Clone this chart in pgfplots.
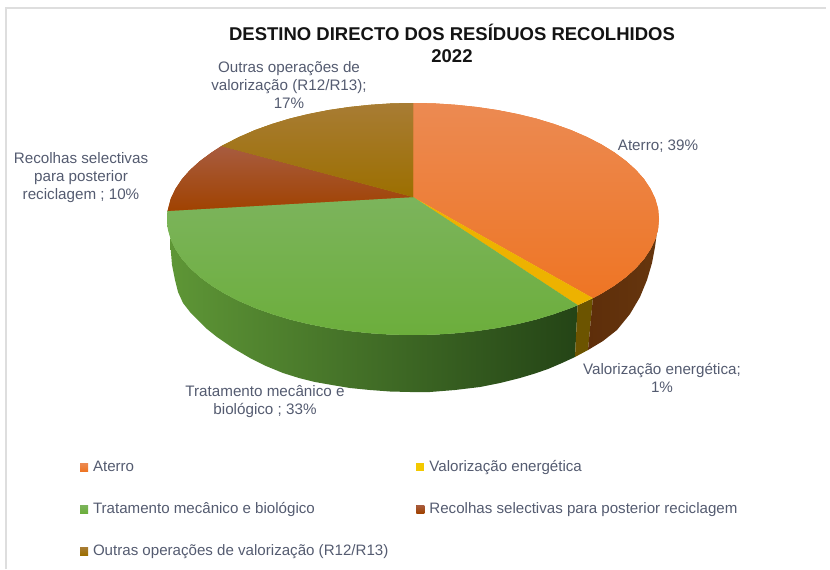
\documentclass[border=0pt]{standalone}
\usepackage{pgfplots}
\pgfplotsset{compat=1.18}
\usepackage{fontspec}
\setmainfont{Liberation Sans}
\definecolor{lab}{HTML}{545B70}
\definecolor{cOr}{HTML}{EE7524}
\definecolor{cOrT}{HTML}{EC8A52}
\definecolor{cYe}{HTML}{EDB200}
\definecolor{cGr}{HTML}{6CAE3C}
\definecolor{cGrT}{HTML}{7CB45C}
\definecolor{cRe}{HTML}{A04200}
\definecolor{cReT}{HTML}{A85C40}
\definecolor{cOl}{HTML}{9C6F00}
\definecolor{cOlT}{HTML}{A87C34}
\begin{document}
\begin{tikzpicture}
\begin{axis}[
  width=830pt, height=569pt, scale only axis,
  xmin=0, xmax=830, ymin=0, ymax=569, y dir=reverse,
  hide axis, clip=false,
  legend columns=2,
  legend cell align=left,
  legend style={draw=none, fill=none, at={(axis cs:80,460)}, anchor=north west,
    font=\fontsize{15.1}{18}\selectfont, text=lab,
    /tikz/every even column/.append style={column sep=28pt},
    /tikz/every odd column/.append style={column sep=5pt},
    row sep=28pt, inner sep=0pt, outer sep=0pt,
    nodes={inner sep=0pt, anchor=base west, text height=11pt, text depth=3pt}},
]
% frame of the picture
\addplot[forget plot, draw=none] coordinates {(0,0) (830,569)};
\addplot[forget plot, color=black!13, line width=1.5pt] coordinates {(6,569) (6,8) (826,8)};
% side walls
\addplot[forget plot, draw=none, left color={rgb,255:red,94;green,150;blue,54}, middle color={rgb,255:red,70;green,112;blue,38}, right color={rgb,255:red,36;green,68;blue,22}]
 coordinates {(577.6,305.2)(571.1,307.9)(554.1,314)(536,319.5)(517,324.1)(497.1,328)(476.7,331)(455.7,333.2)(434.4,334.6)(413,335)(391.6,334.6)(370.3,333.2)(349.3,331)(328.9,328)(309,324.1)(290,319.5)(271.9,314)(254.9,307.9)(239.1,301)(224.6,293.6)(211.5,285.5)(200,277)(190,268)(181.8,258.7)(175.4,249)(170.7,239.1)
 (170.5,247)(172,265)(175,280)(178,292)(183,303)(190,312)(198,320)(207,329)(217,337)(233,348)(250,358)(266,366)(283,373)(299,378)(315,382)(332,385)(350,388)(370,390)(390,391.5)(410,392)(430,392)(455,390)(480,387)(500,383)(520,378)(535,373.5)(548,369)(562,363)(575,357)} --cycle;
\addplot[forget plot, draw=none, fill={rgb,255:red,108;green,84;blue,0}]
 coordinates {(592.9,298.1)(583.9,302.4)(577.6,305.2)(575,357)(588,350)} --cycle;
\addplot[forget plot, draw=none, left color={rgb,255:red,94;green,46;blue,10}, right color={rgb,255:red,102;green,54;blue,14}]
 coordinates {(592.9,298.1)(601.4,293.6)(614.5,285.5)(626,277)(636,268)(644.2,258.7)(650.6,249)(655.3,239.1)(658.1,229.1)(657,232)(655,247)(652,263)(647,280)(640,297)(630,314)(617,330)(603,341)(588,350)} --cycle;
% top faces
\addplot[draw=none, fill=cOr, top color=cOrT, middle color=cOr, bottom color=cOr,
  legend image code/.code={\fill[cOr] (0pt,0pt) rectangle (8pt,8pt);}]
 coordinates {(413,197)(413,103)(434.4,103.4)(455.7,104.8)(476.7,107)(497.1,110)(517,113.9)(536,118.5)(554.1,124)(571.1,130.1)(586.9,137)(601.4,144.4)(614.5,152.5)(626,161)(636,170)(644.2,179.3)(650.6,189)(655.3,198.9)(658.1,208.9)(659,219)(658.1,229.1)(655.3,239.1)(650.6,249)(644.2,258.7)(636,268)(626,277)(614.5,285.5)(601.4,293.6)(592.9,298.1)} --cycle;
\addlegendentry{Aterro}
\addplot[draw=none, fill=cYe,
  legend image code/.code={\fill[cYe!70!yellow] (0pt,0pt) rectangle (8pt,8pt);}]
 coordinates {(413,197)(592.9,298.1)(583.9,302.4)(577.6,305.2)} --cycle;
\addlegendentry{Valorização energética}
\addplot[draw=none, fill=cGr, top color=cGrT, middle color=cGr, bottom color=cGr,
  legend image code/.code={\fill[cGr] (0pt,0pt) rectangle (8pt,8pt);}]
 coordinates {(413,197)(577.6,305.2)(571.1,307.9)(554.1,314)(536,319.5)(517,324.1)(497.1,328)(476.7,331)(455.7,333.2)(434.4,334.6)(413,335)(391.6,334.6)(370.3,333.2)(349.3,331)(328.9,328)(309,324.1)(290,319.5)(271.9,314)(254.9,307.9)(239.1,301)(224.6,293.6)(211.5,285.5)(200,277)(190,268)(181.8,258.7)(175.4,249)(170.7,239.1)(167.9,229.1)(167,219)(167.6,210.9)} --cycle;
\addlegendentry{Tratamento mecânico e biológico}
\addplot[draw=none, fill=cRe, top color=cReT, middle color=cRe, bottom color=cRe,
  legend image code/.code={\fill[cRe] (0pt,0pt) rectangle (8pt,8pt);}]
 coordinates {(413,197)(167.6,210.9)(170.7,198.9)(175.4,189)(181.8,179.3)(190,170)(200,161)(211.5,152.5)(221.5,146)} --cycle;
\addlegendentry{Recolhas selectivas para posterior reciclagem}
\addplot[draw=none, fill=cOl, top color=cOlT, middle color=cOl, bottom color=cOl,
  legend image code/.code={\fill[cOl] (0pt,0pt) rectangle (8pt,8pt);}]
 coordinates {(413,197)(221.5,146)(239.1,137)(254.9,130.1)(271.9,124)(290,118.5)(309,113.9)(328.9,110)(349.3,107)(370.3,104.8)(391.6,103.4)(413,103)} --cycle;
\addlegendentry{Outras operações de valorização (R12/R13)}
% title
\node[font=\bfseries\fontsize{18.5}{22}\selectfont, align=center, text=black!92] at (axis cs:452,43.5) {DESTINO DIRECTO DOS RESÍDUOS RECOLHIDOS\\2022};
% data labels
\tikzset{dl/.style={font=\fontsize{15.2}{18}\selectfont, text=lab, align=center, inner sep=0pt}}
\node[dl] at (axis cs:289,85.5) {Outras operações de\\valorização (R12/R13);\\17\%};
\node[dl] at (axis cs:658,146) {Aterro; 39\%};
\node[dl] at (axis cs:81,178) {Recolhas selectivas\\para posterior\\reciclagem ; 10\%};
\node[dl] at (axis cs:662,378) {Valorização energética;\\1\%};
\node[dl] at (axis cs:265,402) {Tratamento mecânico e\\biológico ; 33\%};
\end{axis}
\end{tikzpicture}
\end{document}
